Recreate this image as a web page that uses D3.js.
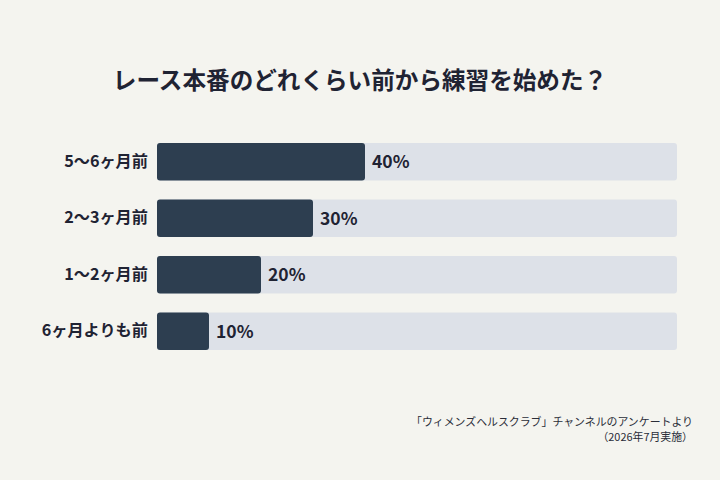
<!DOCTYPE html>
<html><head><meta charset="utf-8">
<script src="https://cdn.jsdelivr.net/npm/d3@7"></script>
<style>
html,body{margin:0;padding:0;background:#f4f4ef;}
svg{display:block;font-family:"Noto Sans CJK JP","Noto Sans",sans-serif;}
</style></head><body>
<svg id="c" width="720" height="480"></svg>
<script>
const title = "レース本番のどれくらい前から練習を始めた？";
const categories = ["5〜6ヶ月前", "2〜3ヶ月前", "1〜2ヶ月前", "6ヶ月よりも前"];
const values = [40, 30, 20, 10];
const footnotes = ["「ウィメンズヘルスクラブ」チャンネルのアンケートより", "（2026年7月実施）"];

const svg = d3.select("#c");
svg.append("rect").attr("width",720).attr("height",480).attr("fill","#f4f4ef");

const x = d3.scaleLinear().domain([0,100]).range([157,677]);
const y = d3.scaleBand().domain(categories).range([133.5,359.5]).paddingInner(0.34).paddingOuter(0.17);

svg.append("text").attr("x",360).attr("y",89).attr("text-anchor","middle")
  .attr("font-size",23.6).attr("font-weight",700).attr("fill","#1f2333").text(title);

const g = svg.append("g");
g.selectAll("rect.track").data(categories).join("rect").attr("class","track")
  .attr("x",x(0)).attr("y",d=>y(d)).attr("width",x(100)-x(0)).attr("height",y.bandwidth())
  .attr("rx",3).attr("fill","#dde1e8");
g.selectAll("rect.bar").data(values).join("rect").attr("class","bar")
  .attr("x",x(0)).attr("y",(d,i)=>y(categories[i])).attr("width",d=>x(d)-x(0)).attr("height",y.bandwidth())
  .attr("rx",3).attr("fill","#2d3e50");
g.selectAll("text.val").data(values).join("text").attr("class","val")
  .attr("x",d=>x(d)+7).attr("y",(d,i)=>y(categories[i])+y.bandwidth()/2).attr("dy","0.36em")
  .attr("font-size",17.5).attr("font-weight",700).attr("fill","#1f2333").text(d=>d+"%");

const yAxis = d3.axisLeft(y).tickSize(0).tickPadding(0);
const ax = svg.append("g").attr("transform","translate(148,0)").call(yAxis);
ax.select(".domain").remove();
ax.selectAll("text").attr("font-size",16.2).attr("font-weight",700).attr("fill","#1f2333")
  .attr("font-family","'Noto Sans CJK JP',sans-serif");

svg.selectAll("text.foot").data(footnotes).join("text").attr("class","foot")
  .attr("x",693).attr("y",(d,i)=>426+i*15).attr("text-anchor","end")
  .attr("font-size",10.9).attr("fill","#2a2d38").text(d=>d);
</script>
</body></html>
